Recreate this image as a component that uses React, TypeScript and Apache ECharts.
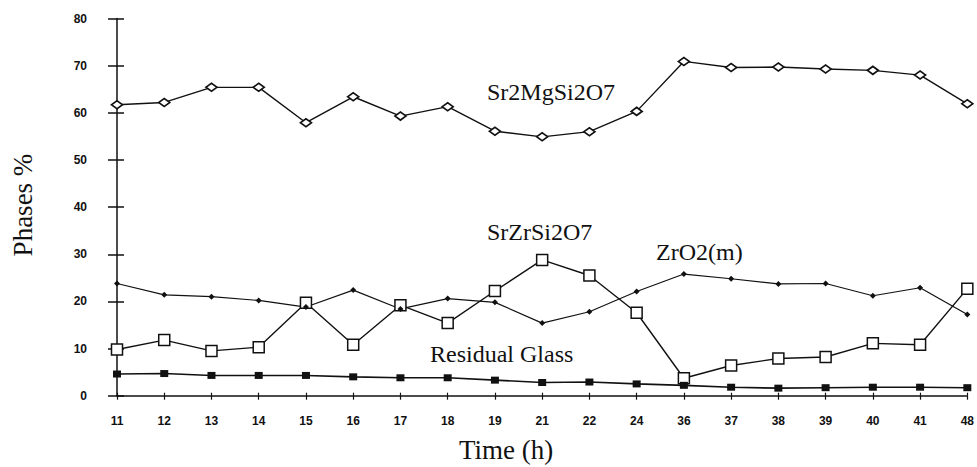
import React, { useEffect, useRef } from "react";
import * as echarts from "echarts";

const categories = ["11","12","13","14","15","16","17","18","19","21","22","24","36","37","38","39","40","41","48"];
const sr2mgsi2o7 = [61.7,62.2,65.4,65.4,57.9,63.4,59.3,61.3,56.1,54.9,56.0,60.3,70.9,69.6,69.7,69.3,69.0,68.0,61.9];
const srzrsi2o7 = [9.8,11.8,9.5,10.3,19.7,10.8,19.2,15.4,22.2,28.8,25.5,17.6,3.7,6.4,7.9,8.2,11.1,10.8,22.7];
const zro2m = [23.8,21.4,21.0,20.2,18.8,22.4,18.4,20.6,19.8,15.4,17.8,22.1,25.8,24.8,23.7,23.8,21.2,22.9,17.2];
const residualGlass = [4.6,4.7,4.3,4.3,4.3,4.0,3.8,3.8,3.3,2.8,2.9,2.5,2.2,1.8,1.6,1.7,1.8,1.8,1.7];

const seriesNames = ["Sr2MgSi2O7", "SrZrSi2O7", "ZrO2(m)", "Residual Glass"];
const xTitle = "Time (h)";
const yTitle = "Phases %";
const yTicks = { min: 0, max: 80, interval: 10 };

export default function App() {
  const ref = useRef<HTMLDivElement>(null);
  useEffect(() => {
    if (!ref.current) return;
    const chart = echarts.init(ref.current, undefined, { renderer: "svg" });
    const tickFont = { fontFamily: "Liberation Sans", fontSize: 12, fontWeight: "bold" as const, color: "#111" };
    const line = { color: "#111", width: 1.4 };
    const serif = { fontFamily: "Liberation Serif", fill: "#111" };
    chart.setOption({
      animation: false,
      backgroundColor: "#fff",
      grid: { left: 117, right: 8, top: 18.5, bottom: 71.3 },
      xAxis: [
        {
          type: "category", data: categories, boundaryGap: false,
          axisLine: { lineStyle: { color: "#111", width: 1.5 } },
          axisTick: { show: true, length: 4, inside: false, alignWithLabel: true, lineStyle: { color: "#111", width: 1.2 } },
          axisLabel: { ...tickFont, margin: 19, interval: 0 },
          splitLine: { show: false },
        },
        {
          type: "category", data: categories, boundaryGap: false, position: "bottom",
          axisLine: { show: false },
          axisTick: { show: true, length: 3, inside: true, lineStyle: { color: "#111", width: 1.2 } },
          axisLabel: { show: false },
          splitLine: { show: false },
        },
      ],
      yAxis: [
        {
          type: "value", ...yTicks,
          axisLine: { show: true, lineStyle: { color: "#111", width: 1.5 } },
          axisTick: { show: true, length: 9, lineStyle: { color: "#111", width: 1.5 } },
          axisLabel: { ...tickFont, margin: 30 },
          splitLine: { show: false },
        },
        {
          type: "value", ...yTicks, position: "left",
          axisLine: { show: false },
          axisTick: { show: true, inside: true, length: 7, lineStyle: { color: "#111", width: 1.5 } },
          axisLabel: { show: false },
          splitLine: { show: false },
        },
      ],
      series: [
        {
          name: seriesNames[0], type: "line", data: sr2mgsi2o7,
          symbol: "diamond", symbolSize: [11, 8], lineStyle: line,
          itemStyle: { color: "#fff", borderColor: "#111", borderWidth: 1.7 },
        },
        {
          name: seriesNames[1], type: "line", data: srzrsi2o7,
          symbol: "rect", symbolSize: 11, lineStyle: line,
          itemStyle: { color: "#fff", borderColor: "#111", borderWidth: 1.5 },
        },
        {
          name: seriesNames[2], type: "line", data: zro2m,
          symbol: "diamond", symbolSize: 6, lineStyle: { color: "#111", width: 1.2 },
          itemStyle: { color: "#111" },
        },
        {
          name: seriesNames[3], type: "line", data: residualGlass,
          symbol: "rect", symbolSize: [8, 7], lineStyle: { color: "#111", width: 1.6 },
          itemStyle: { color: "#111" },
        },
      ],
      graphic: [
        { type: "text", left: 487, top: 80, style: { text: seriesNames[0], ...serif, fontSize: 24 } },
        { type: "text", left: 487, top: 220, style: { text: seriesNames[1], ...serif, fontSize: 24 } },
        { type: "text", left: 656, top: 240, style: { text: seriesNames[2], ...serif, fontSize: 24 } },
        { type: "text", left: 430, top: 342, style: { text: seriesNames[3], ...serif, fontSize: 24 } },
        { type: "text", left: 459, top: 436, style: { text: xTitle, ...serif, fontSize: 27 } },
        {
          type: "text", x: 23, y: 205, rotation: Math.PI / 2,
          style: { text: yTitle, ...serif, fontSize: 27, textAlign: "center", textVerticalAlign: "middle" },
        },
      ],
    });
    return () => chart.dispose();
  }, []);
  return <div ref={ref} style={{ width: 977, height: 467, position: "absolute", left: 0, top: 0 }} />;
}
